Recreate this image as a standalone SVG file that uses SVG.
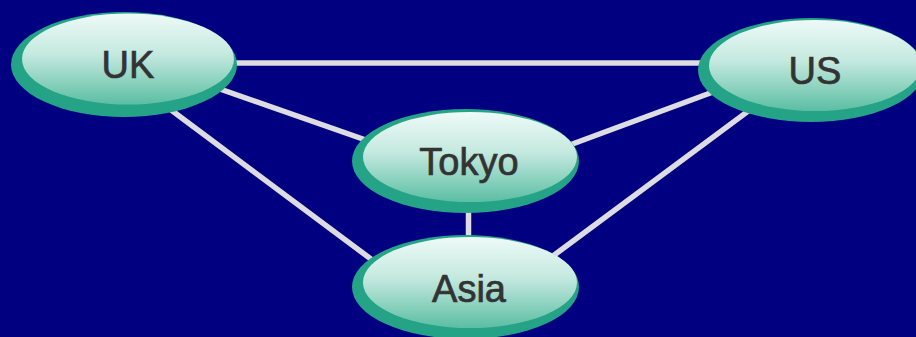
<svg xmlns="http://www.w3.org/2000/svg" width="916" height="337" viewBox="0 0 916 337">
  <defs>
    <linearGradient id="fill" x1="0" y1="0" x2="0" y2="1">
      <stop offset="0" stop-color="#EEFAF7"/>
      <stop offset="0.45" stop-color="#C4E9DF"/>
      <stop offset="1" stop-color="#5BBEA3"/>
    </linearGradient>
  </defs>
  <style>
    .edge { stroke: #DCDCE2; stroke-width: 5.5; fill: none; }
    .outer { fill: #25A386; }
    .inner { fill: url(#fill); }
    .label { font-family: "Liberation Sans", Arial, sans-serif; font-size: 38px; fill: #333333; stroke: #333333; stroke-width: 0.7; text-anchor: middle; }
  </style>
  <rect x="0" y="0" width="916" height="337" fill="#000080"/>
  <g id="connectors">
    <line class="edge" x1="200" y1="63" x2="760" y2="63"/>
    <line class="edge" x1="200" y1="82" x2="400" y2="152"/>
    <line class="edge" x1="150" y1="94.3" x2="400" y2="280.7"/>
    <line class="edge" x1="540" y1="156" x2="740" y2="82"/>
    <line class="edge" x1="770" y1="95" x2="530" y2="273"/>
    <line class="edge" x1="468.5" y1="190" x2="468.5" y2="260"/>
  </g>
  <g id="UK">
    <ellipse class="outer" cx="124" cy="64.5" rx="113" ry="52.5"/>
    <ellipse class="inner" cx="128" cy="59" rx="106" ry="45.5"/>
    <text class="label" x="128" y="78">UK</text>
  </g>
  <g id="US">
    <ellipse class="outer" cx="811" cy="70" rx="113" ry="52"/>
    <ellipse class="inner" cx="815" cy="65.5" rx="106" ry="45.5"/>
    <text class="label" x="815" y="84">US</text>
  </g>
  <g id="Tokyo">
    <ellipse class="outer" cx="465.5" cy="161" rx="113.5" ry="52"/>
    <ellipse class="inner" cx="470" cy="157" rx="107" ry="45"/>
    <text class="label" x="469" y="175">Tokyo</text>
  </g>
  <g id="Asia">
    <ellipse class="outer" cx="465.5" cy="287" rx="113.5" ry="52"/>
    <ellipse class="inner" cx="470" cy="282.5" rx="107" ry="45.5"/>
    <text class="label" x="469" y="302">Asia</text>
  </g>
</svg>
